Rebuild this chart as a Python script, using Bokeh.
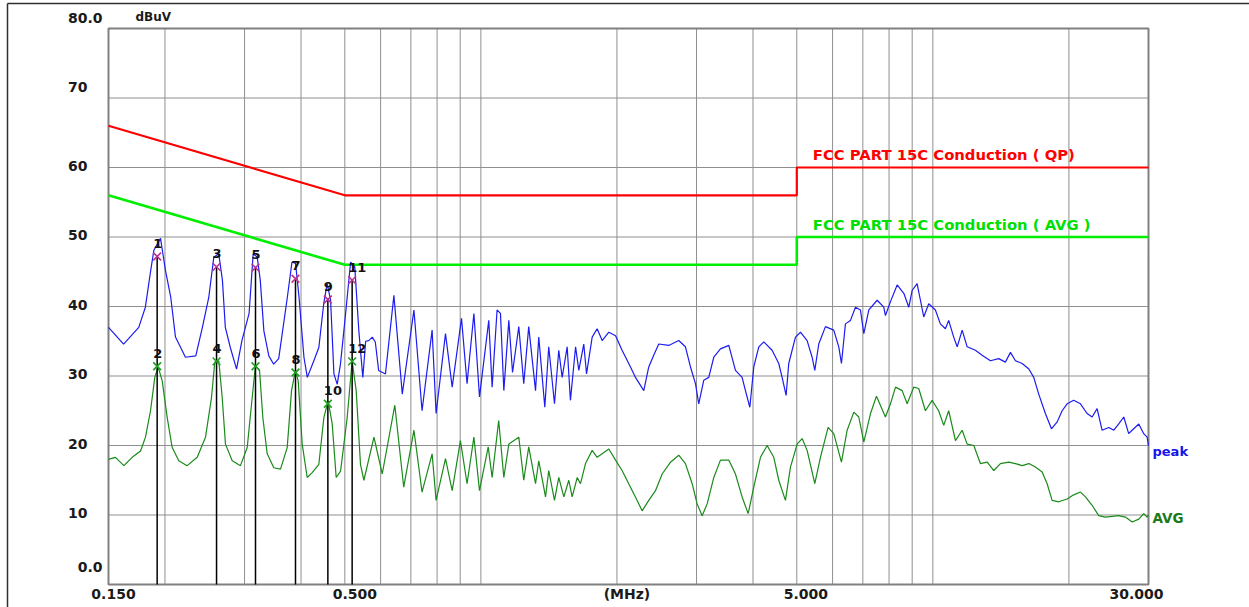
import math
from bokeh.plotting import figure
from bokeh.models import Range1d
from bokeh.core.properties import value
from bokeh.embed import file_html
from bokeh.resources import INLINE

# ---------------- data ----------------
peak_f = [0.150, 0.162, 0.175, 0.181, 0.186, 0.189, 0.1955, 0.2005, 0.206, 0.211, 0.222, 0.234,
          0.242, 0.250, 0.2565, 0.263, 0.268, 0.272, 0.279, 0.288, 0.296, 0.307, 0.3135, 0.320,
          0.325, 0.331, 0.3395, 0.348, 0.357, 0.373, 0.382, 0.389, 0.396, 0.406, 0.413, 0.427,
          0.438, 0.449, 0.457, 0.465, 0.473, 0.481, 0.489, 0.502, 0.515, 0.526, 0.537, 0.548,
          0.556, 0.565, 0.575, 0.584, 0.594, 0.615, 0.642, 0.670, 0.711, 0.741, 0.780, 0.796,
          0.835, 0.864, 0.906, 0.932, 0.965, 0.993, 1.041, 1.059, 1.086, 1.105, 1.124, 1.153,
          1.175, 1.213, 1.244, 1.276, 1.321, 1.343, 1.385, 1.413, 1.455, 1.487, 1.513, 1.552,
          1.578, 1.620, 1.647, 1.689, 1.713, 1.763, 1.808, 1.855, 1.919, 1.986, 2.053, 2.143,
          2.198, 2.293, 2.352, 2.412, 2.475, 2.604, 2.740, 2.835, 2.909, 2.984, 3.034, 3.113,
          3.193, 3.276, 3.389, 3.536, 3.658, 3.784, 3.849, 3.936, 4.016, 4.120, 4.226, 4.409,
          4.561, 4.640, 4.735, 4.799, 4.966, 5.094, 5.270, 5.406, 5.480, 5.592, 5.786, 6.036,
          6.192, 6.277, 6.406, 6.572, 6.742, 6.915, 7.035, 7.217, 7.530, 7.788, 7.854, 8.058,
          8.337, 8.625, 8.846, 8.997, 9.228, 9.387, 9.546, 9.792, 10.13, 10.39, 10.66, 10.84,
          11.12, 11.32, 11.61, 11.91, 12.42, 12.85, 13.41, 13.99, 14.47, 14.85, 15.23, 15.76,
          16.31, 16.72, 17.15, 17.74, 18.30, 18.84, 19.32, 19.82, 20.49, 21.21, 21.94, 22.51,
          23.09, 23.68, 24.51, 25.14, 25.78, 26.45, 27.12, 27.60, 28.55, 29.28, 29.79, 30.0]
peak_db = [37.0, 34.6, 37.0, 39.9, 45.2, 48.1, 49.8, 45.2, 41.3, 35.6, 32.7, 32.9,
           37.0, 41.3, 47.1, 47.6, 43.8, 37.0, 34.1, 31.0, 35.1, 39.0, 47.6, 47.1,
           43.8, 36.5, 32.9, 31.7, 32.5, 41.3, 46.4, 46.2, 41.3, 32.7, 29.8, 32.2,
           34.1, 40.4, 43.3, 40.9, 30.3, 28.8, 31.7, 39.0, 46.4, 45.7, 36.5, 29.8,
           35.0, 35.1, 35.6, 34.9, 30.8, 30.3, 41.6, 27.4, 39.5, 25.0, 36.6, 24.6,
           36.1, 28.4, 38.3, 28.9, 39.0, 27.0, 38.0, 28.4, 39.5, 39.0, 27.9, 38.0,
           30.5, 37.1, 28.9, 37.1, 27.9, 35.6, 25.5, 34.2, 26.0, 33.7, 29.8, 34.2,
           26.5, 34.2, 30.8, 34.6, 30.3, 35.6, 36.8, 35.1, 36.3, 35.8, 33.7, 31.3,
           29.8, 27.9, 31.3, 33.0, 34.6, 34.4, 35.1, 34.2, 31.3, 28.9, 26.0, 29.4,
           29.8, 32.7, 33.9, 34.4, 30.8, 29.8, 27.9, 25.5, 31.3, 34.2, 34.9, 33.7,
           31.8, 29.8, 27.2, 31.8, 35.6, 36.3, 35.1, 32.7, 30.8, 34.6, 37.1, 36.6,
           34.2, 31.8, 37.5, 38.0, 39.9, 39.5, 36.1, 39.5, 40.9, 39.9, 38.7, 40.7,
           43.1, 41.9, 39.9, 42.3, 43.3, 40.9, 38.5, 40.4, 39.5, 37.5, 36.8, 38.0,
           35.6, 34.2, 36.6, 34.2, 33.7, 33.0, 32.2, 32.5, 32.0, 33.4, 32.2, 31.8,
           31.0, 29.8, 27.4, 24.6, 22.4, 23.4, 25.0, 26.0, 26.5, 26.0, 24.6, 24.1,
           25.3, 22.2, 22.6, 22.2, 23.1, 24.1, 21.7, 22.2, 23.1, 21.7, 21.2, 20.0]

avg_f = [0.150, 0.1554, 0.1622, 0.1692, 0.1766, 0.1811, 0.1858, 0.1899, 0.1932, 0.1972, 0.2023,
         0.2075, 0.2146, 0.2239, 0.2357, 0.2459, 0.2535, 0.2578, 0.2631, 0.2677, 0.2722, 0.2817,
         0.2938, 0.3041, 0.3119, 0.3172, 0.3238, 0.3293, 0.3367, 0.3482, 0.3603, 0.3728, 0.3811,
         0.3889, 0.3943, 0.4024, 0.4128, 0.4234, 0.4380, 0.4493, 0.4593, 0.4689, 0.4785, 0.4892,
         0.5060, 0.5190, 0.5298, 0.5415, 0.551, 0.580, 0.605, 0.645, 0.675, 0.711, 0.741, 0.780,
         0.796, 0.835, 0.864, 0.901, 0.932, 0.965, 0.993, 1.038, 1.059, 1.095, 1.124, 1.153,
         1.213, 1.244, 1.276, 1.321, 1.343, 1.390, 1.413, 1.455, 1.487, 1.526, 1.565, 1.592,
         1.634, 1.661, 1.704, 1.763, 1.808, 1.919, 1.986, 2.053, 2.143, 2.217, 2.274, 2.352,
         2.434, 2.518, 2.628, 2.740, 2.835, 2.934, 3.009, 3.087, 3.167, 3.276, 3.389, 3.536,
         3.658, 3.784, 3.903, 4.016, 4.155, 4.299, 4.447, 4.561, 4.719, 4.841, 5.009, 5.138,
         5.270, 5.480, 5.640, 5.865, 6.036, 6.277, 6.462, 6.686, 6.857, 7.035, 7.278, 7.504,
         7.854, 8.058, 8.267, 8.552, 8.772, 9.073, 9.306, 9.628, 9.961, 10.30, 10.57, 10.84,
         11.22, 11.61, 11.91, 12.32, 12.74, 13.19, 13.64, 14.11, 14.72, 15.23, 15.76, 16.31,
         16.86, 17.45, 17.90, 18.36, 18.99, 19.82, 20.49, 21.21, 21.76, 22.51, 23.28, 24.09,
         24.93, 25.78, 26.67, 27.60, 28.55, 29.28, 29.79, 30.0]
avg_db = [18.0, 18.3, 17.1, 18.3, 19.2, 21.2, 25.0, 29.8, 31.3, 29.3, 24.0,
          19.7, 17.8, 17.1, 18.3, 21.2, 26.9, 32.0, 32.2, 26.9, 20.2, 17.8,
          17.1, 19.7, 26.9, 31.5, 30.8, 24.0, 18.8, 16.8, 16.6, 19.7, 27.9,
          30.8, 29.3, 20.2, 15.4, 16.1, 17.3, 24.0, 26.4, 23.1, 15.4, 16.3,
          24.0, 32.2, 27.9, 17.3, 15.0, 21.2, 15.9, 25.8, 14.0, 22.2, 13.3, 18.8,
          12.1, 18.1, 13.5, 20.7, 14.5, 21.2, 13.5, 19.8, 15.4, 23.6, 15.4, 20.2,
          21.2, 15.0, 19.8, 14.5, 17.8, 12.6, 16.4, 12.1, 15.4, 12.6, 15.0, 12.6,
          15.4, 14.5, 17.4, 19.3, 18.3, 19.5, 17.9, 16.4, 14.0, 12.1, 10.6, 12.1,
          13.5, 15.9, 17.6, 18.6, 17.4, 14.5, 11.6, 9.9, 11.6, 15.4, 17.9, 17.9,
          15.9, 12.6, 10.2, 14.0, 18.3, 20.0, 18.3, 15.0, 12.1, 16.9, 20.2, 21.0,
          19.3, 14.5, 18.3, 22.6, 21.7, 17.6, 22.2, 24.8, 24.1, 20.5, 24.6, 27.1,
          24.1, 26.0, 28.4, 27.9, 26.0, 28.4, 28.2, 25.0, 26.5, 25.0, 22.9, 25.0,
          20.7, 22.2, 20.2, 20.0, 17.4, 17.6, 16.4, 17.4, 17.6, 17.4, 17.1, 17.4,
          16.9, 16.2, 14.5, 12.1, 11.9, 12.3, 12.9, 13.3, 12.6, 11.4, 9.9, 9.7,
          9.8, 9.9, 9.7, 9.0, 9.4, 10.2, 9.7, 10.0]

qp_limit_f = [0.15, 0.5, 5.0, 5.0, 30.0]
qp_limit_db = [66.0, 56.0, 56.0, 60.0, 60.0]
av_limit_f = [0.15, 0.5, 5.0, 5.0, 30.0]
av_limit_db = [56.0, 46.0, 46.0, 50.0, 50.0]

pk_marker_no = ["1", "3", "5", "7", "9", "11"]
av_marker_no = ["2", "4", "6", "8", "10", "12"]
marker_f = [0.1922, 0.2601, 0.3172, 0.3889, 0.4586, 0.5190]
pk_marker_db = [47.2, 45.7, 45.6, 44.0, 41.0, 43.8]
av_marker_db = [31.4, 32.1, 31.4, 30.5, 26.0, 32.1]

x_grid = [0.2, 0.3, 0.4, 0.5, 0.6, 0.7, 0.8, 0.9, 1, 2, 3, 4, 5, 6, 7, 8, 9, 10, 20]
y_ticks = [10, 20, 30, 40, 50, 60, 70]
y_tick_text = ["10", "20", "30", "40", "50", "60", "70"]
x_tick_f = [0.15, 0.5, 2.0, 5.0, 30.0]
x_tick_text = ["0.150", "0.500", "(MHz)", "5.000", "30.000"]
F_MIN, F_MAX = 0.15, 30.0
DB_MIN, DB_MAX = 0.0, 80.0

# ---------------- layout (screen px) ----------------
W, H = 1249, 607
PL, PR, PT, PB = 108, 1148, 28, 584          # plot-area edges on the page
k = (PR - PL) / math.log10(F_MAX / F_MIN)      # px per decade
ppd = (PB - PT) / (DB_MAX - DB_MIN)            # px per dB
x0 = F_MIN * 10 ** (-PL / k)
x1 = F_MAX * 10 ** ((W - PR) / k)
y0 = DB_MIN - (H - PB) / ppd
y1 = DB_MAX + PT / ppd
# outer picture frame (left edge at 7px, top edge at 3px)
fx_left = x0 * 10 ** (7 / k)
fy_top = y1 - 3 / ppd

FONT = value("DejaVu Sans")
GRID = "#8f8f8f"

p = figure(width=W, height=H, x_axis_type="log",
           x_range=Range1d(x0, x1), y_range=Range1d(y0, y1),
           x_axis_location=None, y_axis_location=None,
           output_backend="svg", toolbar_location=None,
           min_border=0, min_border_left=0, min_border_right=0,
           min_border_top=0, min_border_bottom=0)
p.background_fill_color = "white"
p.border_fill_color = "white"
p.outline_line_color = None
p.grid.visible = False

# outer frame lines
p.segment(x0=[fx_left, fx_left], y0=[y0, fy_top], x1=[fx_left, x1], y1=[fy_top, fy_top],
          line_color="#303030", line_width=1.5)

# grid
p.segment(x0=x_grid, y0=[DB_MIN] * len(x_grid), x1=x_grid, y1=[DB_MAX] * len(x_grid),
          line_color=GRID, line_width=1)
p.segment(x0=[F_MIN] * len(y_ticks), y0=y_ticks, x1=[F_MAX] * len(y_ticks), y1=y_ticks,
          line_color=GRID, line_width=1)
# plot-area border
p.quad(left=F_MIN, right=F_MAX, bottom=DB_MIN, top=DB_MAX, fill_color=None,
       line_color="#808080", line_width=2)

# limits
p.line(qp_limit_f, qp_limit_db, line_color="#ff0000", line_width=2.2)
p.line(av_limit_f, av_limit_db, line_color="#00ee00", line_width=2.6)

# traces
p.line(avg_f, avg_db, line_color="#1a8a1a", line_width=1.2)
p.line(peak_f, peak_db, line_color="#1c1cf0", line_width=1.2)

# marker lines and markers
p.segment(x0=marker_f, y0=[DB_MIN] * len(marker_f), x1=marker_f, y1=pk_marker_db,
          line_color="black", line_width=1.5)
p.scatter(marker_f, pk_marker_db, marker="x", size=11, line_color="#b8338f", line_width=1.6)
p.scatter(marker_f, av_marker_db, marker="x", size=11, line_color="#1f9f1f", line_width=1.6)
p.text(x=marker_f + marker_f, y=pk_marker_db + av_marker_db, text=pk_marker_no + av_marker_no,
       text_align="left", text_baseline="middle", x_offset=-4, y_offset=-13,
       text_font=FONT, text_font_style="bold", text_font_size="13px", text_color="#111111")


def txt(xs, ys, texts, color, size="14px", align="left", xo=0, yo=0):
    p.text(x=xs, y=ys, text=texts, x_offset=xo, y_offset=yo,
           text_align=align, text_baseline="middle",
           text_font=FONT, text_font_style="bold",
           text_font_size=size, text_color=color)


# y tick labels (right edge 21px left of the plot area)
y_yo = [-2, -2, -2, -2, -2, -2, -11]
for yv, t, o in zip(y_ticks, y_tick_text, y_yo):
    txt([F_MIN], [yv], [t], "#1a1a1a", align="right", xo=-21, yo=o)
txt([F_MIN], [DB_MIN], ["0.0"], "#1a1a1a", align="right", xo=-6, yo=-18)
txt([F_MIN], [DB_MAX], ["80.0"], "#1a1a1a", align="right", xo=-6, yo=-11)
txt([F_MIN], [DB_MAX], ["dBuV"], "#1a1a1a", size="12px", align="left", xo=27, yo=-12)

# x tick labels
x_xo = [5, 10, 10, 9, -12]
for f, t, o in zip(x_tick_f, x_tick_text, x_xo):
    txt([f], [DB_MIN], [t], "#1a1a1a", align="center", xo=o, yo=9)

# limit names and trace names
txt([5.0], [60.0], ["FCC PART 15C Conduction ( QP)"], "#ff0000", size="14.8px", xo=16, yo=-13)
txt([5.0], [50.0], ["FCC PART 15C Conduction ( AVG )"], "#00e000", size="14.8px", xo=16, yo=-13)
txt([F_MAX], [20.0], ["peak"], "#1515e8", size="13px", xo=4, yo=6)
txt([F_MAX], [10.0], ["AVG"], "#1a7a1a", size="13.5px", xo=4, yo=3)

open("out.html", "w").write(file_html(p, INLINE))
